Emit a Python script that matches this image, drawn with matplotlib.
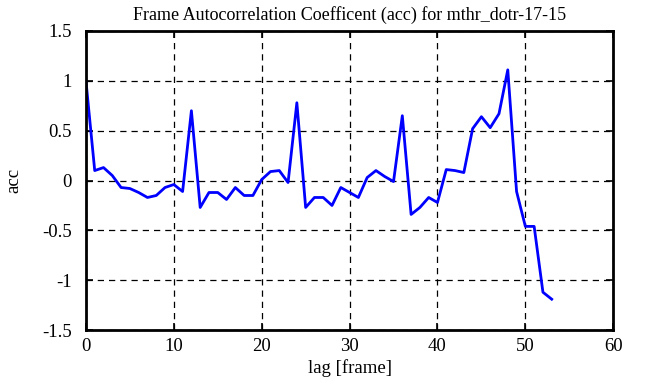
import numpy as np
import matplotlib
matplotlib.use('Agg')
import matplotlib.pyplot as plt

plt.rcParams['font.family'] = ['Liberation Serif', 'DejaVu Serif']

# lag 0..53
lags = np.arange(54)
acc = [1.00, 0.10, 0.13, 0.05, -0.07, -0.08, -0.12, -0.17, -0.15, -0.07,
       -0.04, -0.11, 0.70, -0.27, -0.12, -0.12, -0.19, -0.07, -0.15, -0.15,
       0.01, 0.09, 0.10, -0.02, 0.78, -0.27, -0.17, -0.17, -0.25, -0.07,
       -0.12, -0.17, 0.03, 0.10, 0.04, -0.01, 0.65, -0.34, -0.27, -0.17,
       -0.22, 0.11, 0.10, 0.08, 0.52, 0.64, 0.53, 0.67, 1.11, -0.11,
       -0.46, -0.46, -1.12, -1.19]

xticks = [0, 10, 20, 30, 40, 50, 60]
yticks = [-1.5, -1, -0.5, 0, 0.5, 1, 1.5]
ytick_labels = ['-1.5', '-1', '-0.5', '0', '0.5', '1', '1.5']

fig = plt.figure(figsize=(6.51, 3.87), dpi=100)
ax = fig.add_axes([0.132, 0.147, 0.810, 0.773])

ax.plot(lags, acc, color='#0000ff', linewidth=2)

ax.set_xlim(0, 60)
ax.set_ylim(-1.5, 1.5)
ax.set_xticks(xticks)
ax.set_yticks(yticks)
ax.set_yticklabels(ytick_labels)
ax.grid(True, color='black', linestyle=(0, (5, 4)), linewidth=0.9)
ax.tick_params(direction='in', top=True, right=True, length=5, width=1.2,
               labelsize=13.5)
ax.tick_params(axis='y', pad=10)
ax.tick_params(axis='x', pad=6)
for s in ax.spines.values():
    s.set_linewidth(2)

ax.set_title('Frame Autocorrelation Coefficent (acc) for mthr_dotr-17-15',
             fontsize=13, pad=8)
ax.set_xlabel('lag [frame]', fontsize=13.5, labelpad=3)
ax.set_ylabel('acc', fontsize=13.5, labelpad=14)

fig.savefig('out.png', dpi=100)
